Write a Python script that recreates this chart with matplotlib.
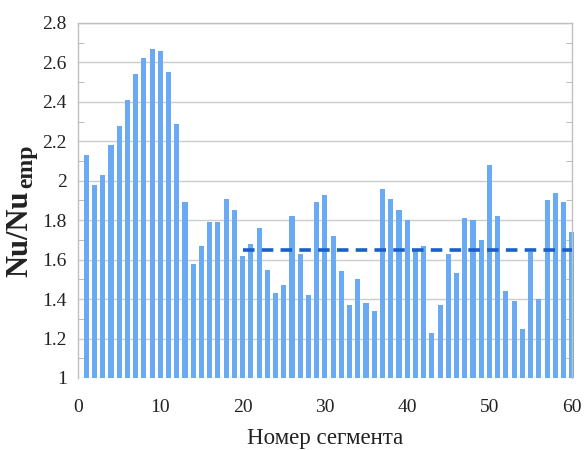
import matplotlib
matplotlib.use("Agg")
import matplotlib.pyplot as plt
from matplotlib.ticker import FixedLocator, MultipleLocator

# Segment numbers and Nu/Nu_emp ratio per segment
segments = list(range(1, 61))
nu_ratio = [
    2.13, 1.98, 2.03, 2.18, 2.28, 2.41, 2.54, 2.62, 2.67, 2.66,
    2.55, 2.29, 1.89, 1.58, 1.67, 1.79, 1.79, 1.91, 1.85, 1.62,
    1.68, 1.76, 1.55, 1.43, 1.47, 1.82, 1.63, 1.42, 1.89, 1.93,
    1.72, 1.54, 1.37, 1.50, 1.38, 1.34, 1.96, 1.91, 1.85, 1.80,
    1.65, 1.67, 1.23, 1.37, 1.63, 1.53, 1.81, 1.80, 1.70, 2.08,
    1.82, 1.44, 1.39, 1.25, 1.64, 1.40, 1.90, 1.94, 1.89, 1.74,
]

# Mean level over segments 20..60
mean_range = [20, 60]
mean_value = 1.65

y_ticks = [1.0, 1.2, 1.4, 1.6, 1.8, 2.0, 2.2, 2.4, 2.6, 2.8]
y_tick_labels = ["1", "1.2", "1.4", "1.6", "1.8", "2", "2.2", "2.4", "2.6", "2.8"]
x_ticks = [0, 10, 20, 30, 40, 50, 60]

plt.rcParams["font.family"] = ["Liberation Serif", "DejaVu Serif"]

fig = plt.figure(figsize=(5.87, 4.5), dpi=100)
ax = fig.add_axes([0.133, 0.16, 0.841, 0.789])

base = 1.0
ax.bar(segments, [v - base for v in nu_ratio], bottom=base, width=0.62,
       color="#6aaaf2", zorder=2, clip_on=False)
ax.plot(mean_range, [mean_value, mean_value], color="#1a5fc8", lw=2.6,
        ls=(0, (3.2, 2.0)), zorder=3)

ax.set_xlim(0, 60)
ax.set_ylim(1.0, 2.8)
ax.yaxis.set_major_locator(FixedLocator(y_ticks))
ax.set_yticklabels(y_tick_labels)
ax.yaxis.set_minor_locator(MultipleLocator(0.1))
ax.set_xticks(x_ticks)

ax.grid(axis="y", which="major", color="#cccccc", lw=1.0, zorder=0)
for side in ["left", "right", "top", "bottom"]:
    ax.spines[side].set_color("#c0c0c0")
    ax.spines[side].set_linewidth(1.0)
ax.spines["bottom"].set_visible(False)

ax.tick_params(axis="x", which="major", length=0, labelsize=14,
               labelcolor="#222222", pad=15)
ax.tick_params(axis="y", which="major", length=0, labelsize=14,
               labelcolor="#222222", pad=8)
ax.tick_params(axis="y", which="minor", length=4, color="#b0b0b0",
               direction="in", left=True, right=True)

ax.set_xlabel("Номер сегмента", fontsize=16.5, color="#222222")
ax.xaxis.set_label_coords(0.5, -0.140)

# Y-axis title: "Nu/Nu" with a large "emp" subscript
fig.text(20 / 587, 1 - 277 / 450, "Nu/Nu", rotation=90, ha="center",
         va="bottom", fontsize=22, fontweight="bold", color="#222222")
fig.text(27 / 587, 1 - 145 / 450, "emp", rotation=90, ha="center",
         va="top", fontsize=17, fontweight="bold", color="#222222")

fig.savefig("out.png", dpi=100)
